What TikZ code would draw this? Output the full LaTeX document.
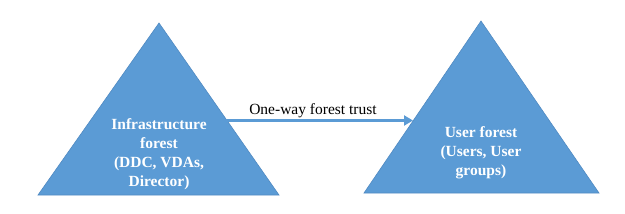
\documentclass[tikz,border=0pt]{standalone}
\usepackage{fontspec}
\setmainfont{Liberation Serif}
\usetikzlibrary{arrows.meta}
\definecolor{forestblue}{RGB}{91,155,213}
\definecolor{forestedge}{RGB}{80,138,194}
\tikzset{
  forestshape/.style={fill=forestblue, draw=forestedge, line width=0.6pt, line join=miter},
  foresttext/.style={text=white, font=\fontsize{15.5}{19}\selectfont\bfseries, align=center, inner sep=0pt},
  trustarrow/.style={draw=forestblue, line width=3pt, -{Triangle[length=9pt,width=10pt]}},
  trustlabel/.style={font=\fontsize{15.5}{19}\selectfont, inner sep=0pt, anchor=base}
}
\begin{document}
\begin{tikzpicture}[x=1pt,y=-1pt]
\useasboundingbox (0,0) rectangle (625,214);
% left triangle (Infrastructure forest)
\coordinate (la) at (159,23);
\coordinate (lbl) at (38,195);
\coordinate (lbr) at (279,195);
\path[forestshape] (la) -- (lbr) -- (lbl) -- cycle;
% right triangle (User forest)
\coordinate (ra) at (481,21);
\coordinate (rbl) at (364,193);
\coordinate (rbr) at (599,193);
\path[forestshape] (ra) -- (rbr) -- (rbl) -- cycle;
% arrow ends on the triangle edges
\coordinate (arrowstart) at (226,120.5);
\coordinate (arrowend) at (413,120.5);
\draw[trustarrow] (arrowstart) -- (arrowend);
\node[trustlabel] (trust) at (313,114) {One-way forest trust};
\node[foresttext] (infra) at (159,154) {Infrastructure\\forest\\(DDC, VDAs,\\Director)};
\node[foresttext] (user) at (481,153) {User forest\\(Users, User\\groups)};
\end{tikzpicture}
\end{document}
